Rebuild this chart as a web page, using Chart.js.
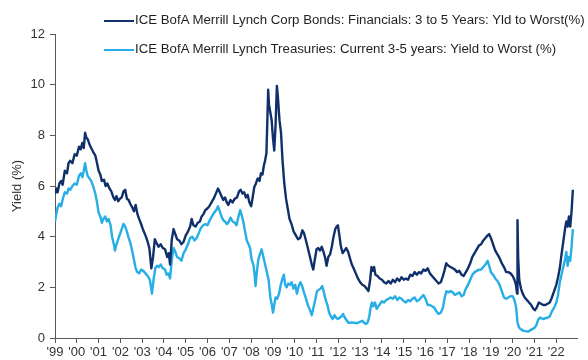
<!DOCTYPE html>
<html>
<head>
<meta charset="utf-8">
<script src="https://cdn.jsdelivr.net/npm/chart.js@4/dist/chart.umd.min.js"></script>
<style>
  html, body { margin: 0; padding: 0; background: #fff; }
  #wrap { position: relative; width: 588px; height: 360px; overflow: hidden; }
  #c { position: absolute; left: 0; top: 0; }
  .lg { position: absolute; left: 104px; height: 20px; white-space: nowrap;
        font-family: "Liberation Sans", Arial, sans-serif; color: #1f1f1f; }
  .lg .sw { position: absolute; left: 0; width: 30px; height: 2px; }
  .lg .tx { position: absolute; left: 31px; top: 0; line-height: 20px; }
</style>
</head>
<body>
<div id="wrap">
  <canvas id="c" width="588" height="360"></canvas>
  <div class="lg" id="lg1" style="top:10px"><div class="sw" style="top:10px;background:#10306b"></div><div class="tx" id="t1"></div></div>
  <div class="lg" id="lg2" style="top:39px"><div class="sw" style="top:10px;background:#27aee6"></div><div class="tx" id="t2"></div></div>
</div>
<script>
const seriesNames = [
  "ICE BofA Merrill Lynch Corp Bonds: Financials: 3 to 5 Years: Yld to Worst(%)",
  "ICE BofA Merrill Lynch Treasuries: Current 3-5 years: Yield to Worst (%)"
];
const yAxisTitle = "Yield (%)";
const xTickLabels = ["'99","'00","'01","'02","'03","'04","'05","'06","'07","'08","'09","'10","'11","'12","'13","'14","'15","'16","'17","'18","'19","'20","'21","'22"];
const firstYear = 1999;

const corpDates = [1999.00,1999.06,1999.12,1999.2,1999.28,1999.35,1999.45,1999.55,1999.62,1999.7,1999.8,1999.9,2000.0,2000.1,2000.18,2000.25,2000.32,2000.38,2000.44,2000.5,2000.58,2000.66,2000.75,2000.85,2000.93,2001.0,2001.08,2001.15,2001.25,2001.32,2001.4,2001.5,2001.58,2001.68,2001.75,2001.82,2001.9,2001.98,2002.06,2002.15,2002.22,2002.3,2002.38,2002.45,2002.55,2002.62,2002.7,2002.78,2002.86,2002.95,2003.05,2003.15,2003.25,2003.33,2003.42,2003.5,2003.58,2003.66,2003.75,2003.85,2003.95,2004.05,2004.15,2004.22,2004.28,2004.36,2004.44,2004.52,2004.6,2004.7,2004.8,2004.9,2005.0,2005.1,2005.2,2005.27,2005.35,2005.45,2005.55,2005.65,2005.73,2005.82,2005.9,2005.98,2006.08,2006.18,2006.28,2006.38,2006.48,2006.56,2006.64,2006.72,2006.8,2006.88,2006.95,2007.05,2007.15,2007.25,2007.35,2007.45,2007.52,2007.6,2007.68,2007.76,2007.84,2007.92,2008.0,2008.06,2008.14,2008.22,2008.3,2008.38,2008.45,2008.52,2008.58,2008.64,2008.7,2008.74,2008.78,2008.82,2008.88,2008.94,2009.0,2009.06,2009.12,2009.18,2009.22,2009.3,2009.37,2009.44,2009.52,2009.6,2009.68,2009.76,2009.85,2009.95,2010.05,2010.15,2010.25,2010.35,2010.42,2010.5,2010.6,2010.7,2010.78,2010.85,2010.92,2011.0,2011.08,2011.16,2011.24,2011.32,2011.4,2011.46,2011.54,2011.62,2011.7,2011.78,2011.86,2011.92,2011.98,2012.04,2012.12,2012.2,2012.28,2012.36,2012.45,2012.55,2012.62,2012.7,2012.8,2012.9,2013.0,2013.1,2013.2,2013.3,2013.38,2013.46,2013.52,2013.58,2013.64,2013.7,2013.8,2013.9,2014.0,2014.1,2014.2,2014.3,2014.4,2014.5,2014.6,2014.7,2014.8,2014.9,2015.0,2015.1,2015.2,2015.3,2015.4,2015.5,2015.6,2015.7,2015.8,2015.9,2016.0,2016.1,2016.2,2016.3,2016.4,2016.5,2016.6,2016.7,2016.8,2016.88,2016.95,2017.05,2017.15,2017.25,2017.35,2017.45,2017.55,2017.65,2017.75,2017.85,2017.95,2018.05,2018.15,2018.25,2018.35,2018.45,2018.55,2018.65,2018.75,2018.85,2018.92,2019.0,2019.1,2019.2,2019.3,2019.4,2019.5,2019.6,2019.7,2019.8,2019.9,2020.0,2020.08,2020.15,2020.2,2020.22,2020.25,2020.3,2020.38,2020.46,2020.55,2020.65,2020.75,2020.85,2020.95,2021.02,2021.1,2021.2,2021.3,2021.4,2021.5,2021.6,2021.7,2021.8,2021.9,2022.0,2022.08,2022.16,2022.24,2022.32,2022.4,2022.46,2022.52,2022.58,2022.64,2022.7,2022.76];
const corpYields = [5.7,5.9,5.75,6.1,6.2,6.05,6.6,6.5,6.9,7.0,6.9,7.25,7.2,7.55,7.45,7.7,7.5,8.1,7.9,7.85,7.65,7.5,7.35,7.2,6.9,6.6,6.45,6.2,6.25,6.0,6.1,5.9,5.8,5.55,5.45,5.6,5.4,5.5,5.55,5.8,5.85,5.5,5.45,5.3,5.15,5.0,5.25,4.9,4.7,4.5,4.25,4.05,3.8,3.55,2.75,3.2,3.9,3.75,3.6,3.7,3.55,3.5,3.2,3.35,2.9,3.9,4.3,4.1,3.9,3.85,3.7,3.8,4.05,4.2,4.4,4.7,4.45,4.4,4.55,4.6,4.8,4.9,5.05,5.1,5.2,5.35,5.5,5.7,5.9,5.75,5.6,5.45,5.55,5.35,5.25,5.45,5.35,5.5,5.55,5.8,5.85,5.7,5.75,5.55,5.65,5.35,5.2,5.5,5.95,6.1,6.3,6.2,6.5,6.45,6.8,7.0,7.3,8.5,9.8,9.2,8.9,8.6,7.9,7.4,8.4,9.95,9.6,8.6,8.1,7.0,6.1,5.5,5.1,4.7,4.5,4.2,4.05,3.9,3.95,4.25,4.15,3.9,3.55,3.2,2.9,2.7,3.1,3.5,3.55,3.45,3.6,3.4,3.15,2.85,3.2,3.3,3.6,4.0,4.3,4.4,4.45,4.1,3.6,3.35,3.45,3.55,3.4,3.1,2.9,2.75,2.55,2.35,2.2,2.1,2.05,1.95,1.85,2.3,2.8,2.65,2.8,2.5,2.45,2.35,2.3,2.2,2.15,2.25,2.15,2.3,2.2,2.35,2.25,2.4,2.3,2.35,2.3,2.5,2.45,2.6,2.5,2.6,2.55,2.7,2.65,2.75,2.55,2.45,2.35,2.25,2.15,2.2,2.45,2.7,2.95,2.85,2.8,2.75,2.7,2.6,2.65,2.5,2.45,2.6,2.75,2.95,3.2,3.35,3.5,3.65,3.7,3.85,3.95,4.05,4.1,3.95,3.7,3.45,3.3,3.15,2.95,2.8,2.6,2.6,2.55,2.45,2.3,2.1,1.75,4.65,3.2,2.3,1.95,1.75,1.6,1.5,1.4,1.3,1.15,1.1,1.2,1.4,1.35,1.3,1.3,1.35,1.4,1.6,1.85,2.1,2.4,2.75,3.3,3.8,4.3,4.6,4.4,4.8,4.4,5.0,5.85];

const tsyDates = [1999.0,1999.06,1999.12,1999.2,1999.28,1999.36,1999.45,1999.55,1999.62,1999.7,1999.8,1999.9,2000.0,2000.1,2000.18,2000.26,2000.32,2000.38,2000.44,2000.5,2000.58,2000.66,2000.75,2000.85,2000.92,2001.0,2001.08,2001.15,2001.22,2001.3,2001.38,2001.46,2001.55,2001.62,2001.7,2001.75,2001.82,2001.9,2001.98,2002.06,2002.14,2002.22,2002.3,2002.38,2002.46,2002.55,2002.62,2002.7,2002.78,2002.86,2002.95,2003.05,2003.15,2003.25,2003.35,2003.45,2003.52,2003.6,2003.68,2003.76,2003.85,2003.95,2004.05,2004.12,2004.2,2004.28,2004.36,2004.44,2004.52,2004.6,2004.7,2004.8,2004.9,2005.0,2005.1,2005.2,2005.3,2005.4,2005.5,2005.6,2005.7,2005.8,2005.9,2006.0,2006.1,2006.2,2006.3,2006.4,2006.48,2006.56,2006.64,2006.72,2006.8,2006.88,2006.95,2007.05,2007.15,2007.25,2007.33,2007.42,2007.5,2007.58,2007.65,2007.72,2007.8,2007.88,2007.95,2008.02,2008.1,2008.16,2008.2,2008.26,2008.33,2008.4,2008.48,2008.56,2008.64,2008.72,2008.8,2008.88,2008.94,2009.0,2009.06,2009.12,2009.2,2009.28,2009.36,2009.42,2009.5,2009.56,2009.63,2009.7,2009.78,2009.86,2009.94,2010.02,2010.1,2010.18,2010.26,2010.34,2010.42,2010.5,2010.6,2010.7,2010.78,2010.86,2010.94,2011.02,2011.1,2011.18,2011.26,2011.34,2011.42,2011.5,2011.58,2011.66,2011.74,2011.82,2011.9,2011.98,2012.06,2012.14,2012.22,2012.3,2012.38,2012.46,2012.54,2012.62,2012.7,2012.78,2012.86,2012.94,2013.02,2013.1,2013.18,2013.26,2013.34,2013.42,2013.48,2013.54,2013.6,2013.68,2013.76,2013.84,2013.92,2014.0,2014.1,2014.2,2014.3,2014.4,2014.5,2014.6,2014.7,2014.8,2014.9,2015.0,2015.1,2015.2,2015.3,2015.4,2015.5,2015.6,2015.7,2015.8,2015.9,2016.0,2016.1,2016.2,2016.3,2016.4,2016.5,2016.6,2016.7,2016.8,2016.88,2016.96,2017.05,2017.15,2017.25,2017.35,2017.45,2017.55,2017.65,2017.75,2017.85,2017.95,2018.05,2018.15,2018.25,2018.35,2018.45,2018.55,2018.65,2018.75,2018.85,2018.92,2019.0,2019.1,2019.2,2019.3,2019.4,2019.5,2019.6,2019.7,2019.8,2019.9,2020.0,2020.08,2020.16,2020.22,2020.3,2020.4,2020.5,2020.6,2020.7,2020.8,2020.9,2021.0,2021.08,2021.16,2021.24,2021.32,2021.4,2021.5,2021.6,2021.7,2021.8,2021.9,2022.0,2022.08,2022.16,2022.24,2022.32,2022.4,2022.46,2022.52,2022.58,2022.64,2022.7,2022.76];
const tsyYields = [4.6,4.9,5.15,5.3,5.2,5.5,5.75,5.7,5.9,5.85,6.0,6.1,6.05,6.4,6.5,6.35,6.6,6.9,6.6,6.4,6.3,6.2,6.0,5.7,5.4,4.95,4.8,4.55,4.7,4.8,4.6,4.7,4.45,4.0,3.7,3.45,3.7,3.9,4.1,4.3,4.5,4.4,4.2,3.95,3.75,3.4,3.1,2.75,2.6,2.55,2.7,2.65,2.55,2.45,2.3,1.75,2.3,2.75,2.85,2.8,2.9,2.75,2.7,2.5,2.55,2.35,3.1,3.55,3.4,3.2,3.15,3.05,3.35,3.5,3.7,3.95,4.0,3.85,3.95,4.15,4.35,4.45,4.5,4.45,4.65,4.8,4.95,5.05,5.2,5.0,4.8,4.65,4.6,4.5,4.55,4.75,4.6,4.55,4.45,4.8,5.05,4.8,4.55,4.2,3.85,3.7,3.55,3.1,2.9,2.5,2.05,2.6,3.1,3.3,3.5,3.2,2.9,2.6,2.3,1.6,1.35,1.0,1.3,1.6,1.55,1.75,2.1,2.3,2.5,2.1,2.0,2.15,2.1,2.2,1.95,2.1,1.75,2.05,2.2,2.05,1.8,1.6,1.3,1.1,0.9,1.2,1.5,1.85,1.9,1.95,2.05,1.8,1.5,1.3,1.0,0.85,0.75,0.9,0.8,0.75,0.8,0.85,0.95,0.8,0.7,0.6,0.6,0.62,0.6,0.6,0.58,0.62,0.65,0.68,0.6,0.55,0.6,0.85,1.2,1.4,1.25,1.4,1.15,1.25,1.35,1.45,1.4,1.5,1.55,1.6,1.55,1.65,1.5,1.6,1.55,1.45,1.4,1.5,1.45,1.55,1.6,1.45,1.5,1.6,1.7,1.55,1.3,1.3,1.25,1.2,1.05,0.95,1.0,1.2,1.6,1.85,1.8,1.85,1.8,1.7,1.75,1.8,1.65,1.7,1.95,2.1,2.3,2.5,2.6,2.65,2.7,2.7,2.8,2.9,3.05,2.85,2.6,2.5,2.35,2.25,2.1,1.85,1.6,1.55,1.6,1.65,1.65,1.5,1.2,0.6,0.4,0.33,0.28,0.27,0.25,0.3,0.35,0.4,0.5,0.7,0.8,0.78,0.75,0.78,0.8,0.85,1.05,1.2,1.4,1.7,2.2,2.5,2.8,3.1,3.4,2.85,3.2,3.05,3.6,4.3];

const corpColor = "#10306b";
const tsyColor = "#27aee6";
const textFont = "'Liberation Sans', Arial, sans-serif";

// legend text (real HTML text), sized to the reference width
const t1 = document.getElementById('t1');
const t2 = document.getElementById('t2');
t1.textContent = seriesNames[0];
t2.textContent = seriesNames[1];
(function () {
  const m = document.createElement('canvas').getContext('2d');
  m.font = "13px " + textFont;
  const w = m.measureText(seriesNames[0]).width;
  const fs = Math.max(11, Math.min(16, 13 * 451 / w));
  t1.style.fontSize = fs + "px";
  t2.style.fontSize = fs + "px";
})();

const toPts = (xs, ys) => xs.map((x, i) => ({ x: x, y: ys[i] }));

new Chart(document.getElementById('c'), {
  type: 'line',
  data: {
    datasets: [
      { label: seriesNames[0], data: toPts(corpDates, corpYields), borderColor: corpColor, borderWidth: 2.4, pointRadius: 0, tension: 0, fill: false, borderJoinStyle: 'round' },
      { label: seriesNames[1], data: toPts(tsyDates, tsyYields), borderColor: tsyColor, borderWidth: 2.4, pointRadius: 0, tension: 0, fill: false, borderJoinStyle: 'round' }
    ]
  },
  options: {
    responsive: false,
    animation: false,
    events: [],
    layout: { padding: { top: 34, right: 11, left: 0, bottom: 0 } },
    plugins: { legend: { display: false }, tooltip: { enabled: false } },
    scales: {
      x: {
        type: 'linear',
        min: firstYear,
        max: 2022.95,
        afterFit: s => { s.height = 22; },
        border: { display: true, color: '#595959', width: 1 },
        grid: { display: true, drawOnChartArea: false, drawTicks: true, tickLength: 5, color: '#595959' },
        ticks: {
          stepSize: 1,
          includeBounds: false,
          maxRotation: 0,
          autoSkip: false,
          padding: 2,
          color: '#333333',
          font: { family: textFont, size: 13 },
          callback: v => xTickLabels[Math.round(v - firstYear)] ?? ''
        }
      },
      y: {
        min: 0,
        max: 12,
        afterFit: s => { s.width = 55; },
        border: { display: true, color: '#595959', width: 1 },
        grid: { display: true, drawOnChartArea: false, drawTicks: true, tickLength: 5, color: '#595959' },
        ticks: { stepSize: 2, padding: 5, color: '#333333', font: { family: textFont, size: 13 } },
        title: { display: true, text: yAxisTitle, color: '#333333', font: { family: textFont, size: 13 }, padding: { top: 10, bottom: 0 } }
      }
    }
  }
});
</script>
</body>
</html>
